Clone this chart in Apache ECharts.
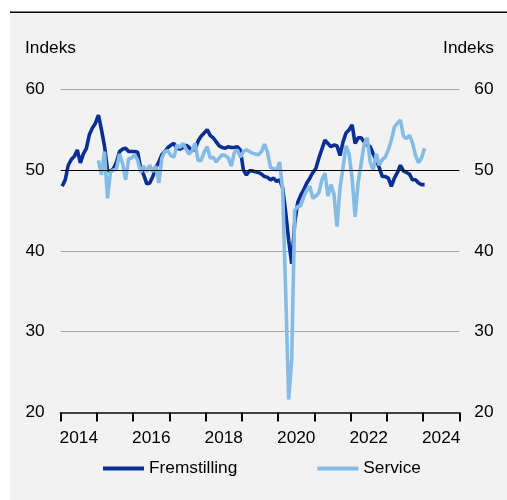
<!DOCTYPE html>
<html>
<head>
<meta charset="utf-8">
<script src="https://cdn.jsdelivr.net/npm/echarts@6/dist/echarts.min.js"></script>
<style>
  html, body { margin: 0; padding: 0; background: #ffffff; }
  #chart { width: 507px; height: 500px; }
</style>
</head>
<body>
<div id="chart"></div>
<script>
// year labels on the axis and the monthly categories behind the lines
var years = ['2014', '2015', '2016', '2017', '2018', '2019', '2020', '2021', '2022', '2023', '2024'];
var months = [];
years.forEach(function (y) {
  for (var m = 1; m <= 12; m++) months.push(y + '-' + (m < 10 ? '0' + m : m));
});

// Fremstilling, Jan 2014 - Jan 2024
var fremstilling = [
  48.0, 48.8, 50.6, 51.3, 51.7, 52.5, 50.9, 52.0, 52.7, 54.4, 55.2, 55.8,
  56.8, 55.0, 53.0, 50.0, 49.8, 50.2, 51.0, 52.3, 52.6, 52.7, 52.3, 52.3,
  52.3, 52.2, 50.2, 49.4, 48.3, 48.4, 49.2, 50.3, 51.0, 51.9, 52.3, 52.8,
  53.1, 53.3, 52.7, 52.6, 52.8, 53.1, 52.8, 52.4, 52.6, 53.6, 54.2, 54.6,
  55.0, 54.3, 54.0, 53.5, 53.0, 52.8, 52.7, 52.9, 52.8, 52.8, 52.9, 52.5,
  50.0, 49.4, 49.9, 49.9, 49.8, 49.7, 49.5, 49.2, 49.1, 48.8, 49.0, 48.6,
  48.8, 47.8, 44.8, 41.3, 38.4, 43.5, 46.0, 46.9, 47.6, 48.4, 49.0, 49.7,
  50.2, 51.5, 52.6, 53.7, 53.3, 52.9, 53.1, 53.0, 51.8, 53.5, 54.6, 55.0,
  55.6, 53.3, 54.0, 54.0, 53.5, 53.1, 52.9, 52.0, 51.2, 50.3, 49.2, 49.2,
  49.0, 48.0, 49.0, 49.7, 50.6, 49.9, 49.7, 49.5, 48.8, 48.8, 48.4, 48.2,
  48.2
];

// Service, starts Jan 2015
var service = [
  null, null, null, null, null, null, null, null, null, null, null, null,
  51.2, 49.4, 52.3, 46.5, 49.8, 50.0, 50.2, 52.0, 50.8, 48.8, 51.4, 51.5,
  51.9, 51.2, 49.7, 50.5, 49.8, 50.6, 49.8, 50.5, 48.4, 51.5, 52.3, 52.4,
  51.8, 51.6, 53.1, 52.8, 53.3, 52.6, 52.0, 52.4, 53.3, 51.2, 51.2, 52.2,
  52.9, 51.5, 51.6, 51.0, 51.5, 51.9, 51.8, 51.5, 50.5, 52.2, 52.5, 51.6,
  52.3, 52.5, 52.3, 52.1, 52.0, 51.9, 52.3, 53.2, 52.2, 50.3, 50.2, 50.0,
  51.0, 47.5, 35.0, 21.6, 26.5, 45.0, 45.5, 45.6, 46.7, 47.5, 48.0, 46.5,
  46.8, 47.2, 48.8, 49.6, 46.8, 48.2, 47.0, 43.0, 47.8, 50.3, 53.0, 52.0,
  49.0, 44.2, 48.5, 50.8, 53.2, 54.0, 51.0, 50.0, 52.0, 50.6, 51.3, 51.6,
  52.5, 53.7, 55.3, 55.8, 56.2, 54.2, 53.9, 54.3, 53.4, 51.8, 50.9, 51.5,
  52.7
];

var yTicks = { min: 20, max: 60, step: 10 };

var font = "'Liberation Sans', Arial, sans-serif";
var fs = 17.3;

var chart = echarts.init(document.getElementById('chart'), null, { renderer: 'canvas' });

var option = {
  backgroundColor: 'transparent',
  animation: false,
  textStyle: { fontFamily: font },
  graphic: [
    { type: 'rect', left: 10, top: 13, shape: { width: 497, height: 487 }, style: { fill: '#f2f2f2' }, z: -10 },
    { type: 'rect', left: 10, top: 11.5, shape: { width: 497, height: 1.5 }, style: { fill: '#000' }, z: -9 },
    { type: 'text', left: 25, top: 40, style: { text: 'Indeks', font: fs + 'px ' + font, fill: '#000' } },
    { type: 'text', right: 13, top: 40, style: { text: 'Indeks', font: fs + 'px ' + font, fill: '#000' } }
  ],
  grid: {
    left: 60.7, right: 47.7, top: 89.3, bottom: 87.5,
    outerBoundsMode: 'none'
  },
  legend: {
    left: 103, top: 460,
    padding: 0,
    icon: 'rect',
    itemWidth: 41, itemHeight: 4,
    itemGap: 80,
    textStyle: { fontSize: fs, color: '#000', fontFamily: font },
    data: ['Fremstilling', 'Service']
  },
  xAxis: [
    {
      type: 'category',
      data: years,
      boundaryGap: true,
      axisLine: { lineStyle: { color: '#404040', width: 2 } },
      axisTick: { show: true, interval: 0, length: 9, lineStyle: { color: '#000', width: 2 } },
      axisLabel: { interval: 1, margin: 17, fontSize: fs, color: '#000', fontFamily: font },
      splitLine: { show: false }
    },
    {
      type: 'category',
      data: months,
      boundaryGap: true,
      show: false
    }
  ],
  yAxis: [
    {
      type: 'value', position: 'left',
      min: yTicks.min, max: yTicks.max, interval: yTicks.step,
      axisLine: { show: false }, axisTick: { show: false },
      axisLabel: { margin: 16, fontSize: fs, color: '#000', fontFamily: font },
      splitLine: { lineStyle: { color: '#a6a6a6', width: 1 } }
    },
    {
      type: 'value', position: 'right',
      min: yTicks.min, max: yTicks.max, interval: yTicks.step,
      axisLine: { show: false }, axisTick: { show: false },
      axisLabel: { margin: 15, fontSize: fs, color: '#000', fontFamily: font },
      splitLine: { show: false }
    }
  ],
  series: [
    {
      name: 'Fremstilling',
      type: 'line',
      xAxisIndex: 1,
      yAxisIndex: 0,
      data: fremstilling,
      showSymbol: false,
      symbol: 'none',
      color: '#0a2f94',
      lineStyle: { width: 3.6, color: '#0a2f94' }
    },
    {
      name: 'Service',
      type: 'line',
      xAxisIndex: 1,
      yAxisIndex: 0,
      data: service,
      showSymbol: false,
      symbol: 'none',
      color: '#85bce6',
      lineStyle: { width: 3.6, color: '#85bce6' },
      markLine: {
        silent: true,
        symbol: ['none', 'none'],
        label: { show: false },
        lineStyle: { color: '#000', width: 1.2, type: 'solid' },
        data: [{ yAxis: 50 }]
      }
    }
  ]
};

chart.setOption(option);
</script>
</body>
</html>
